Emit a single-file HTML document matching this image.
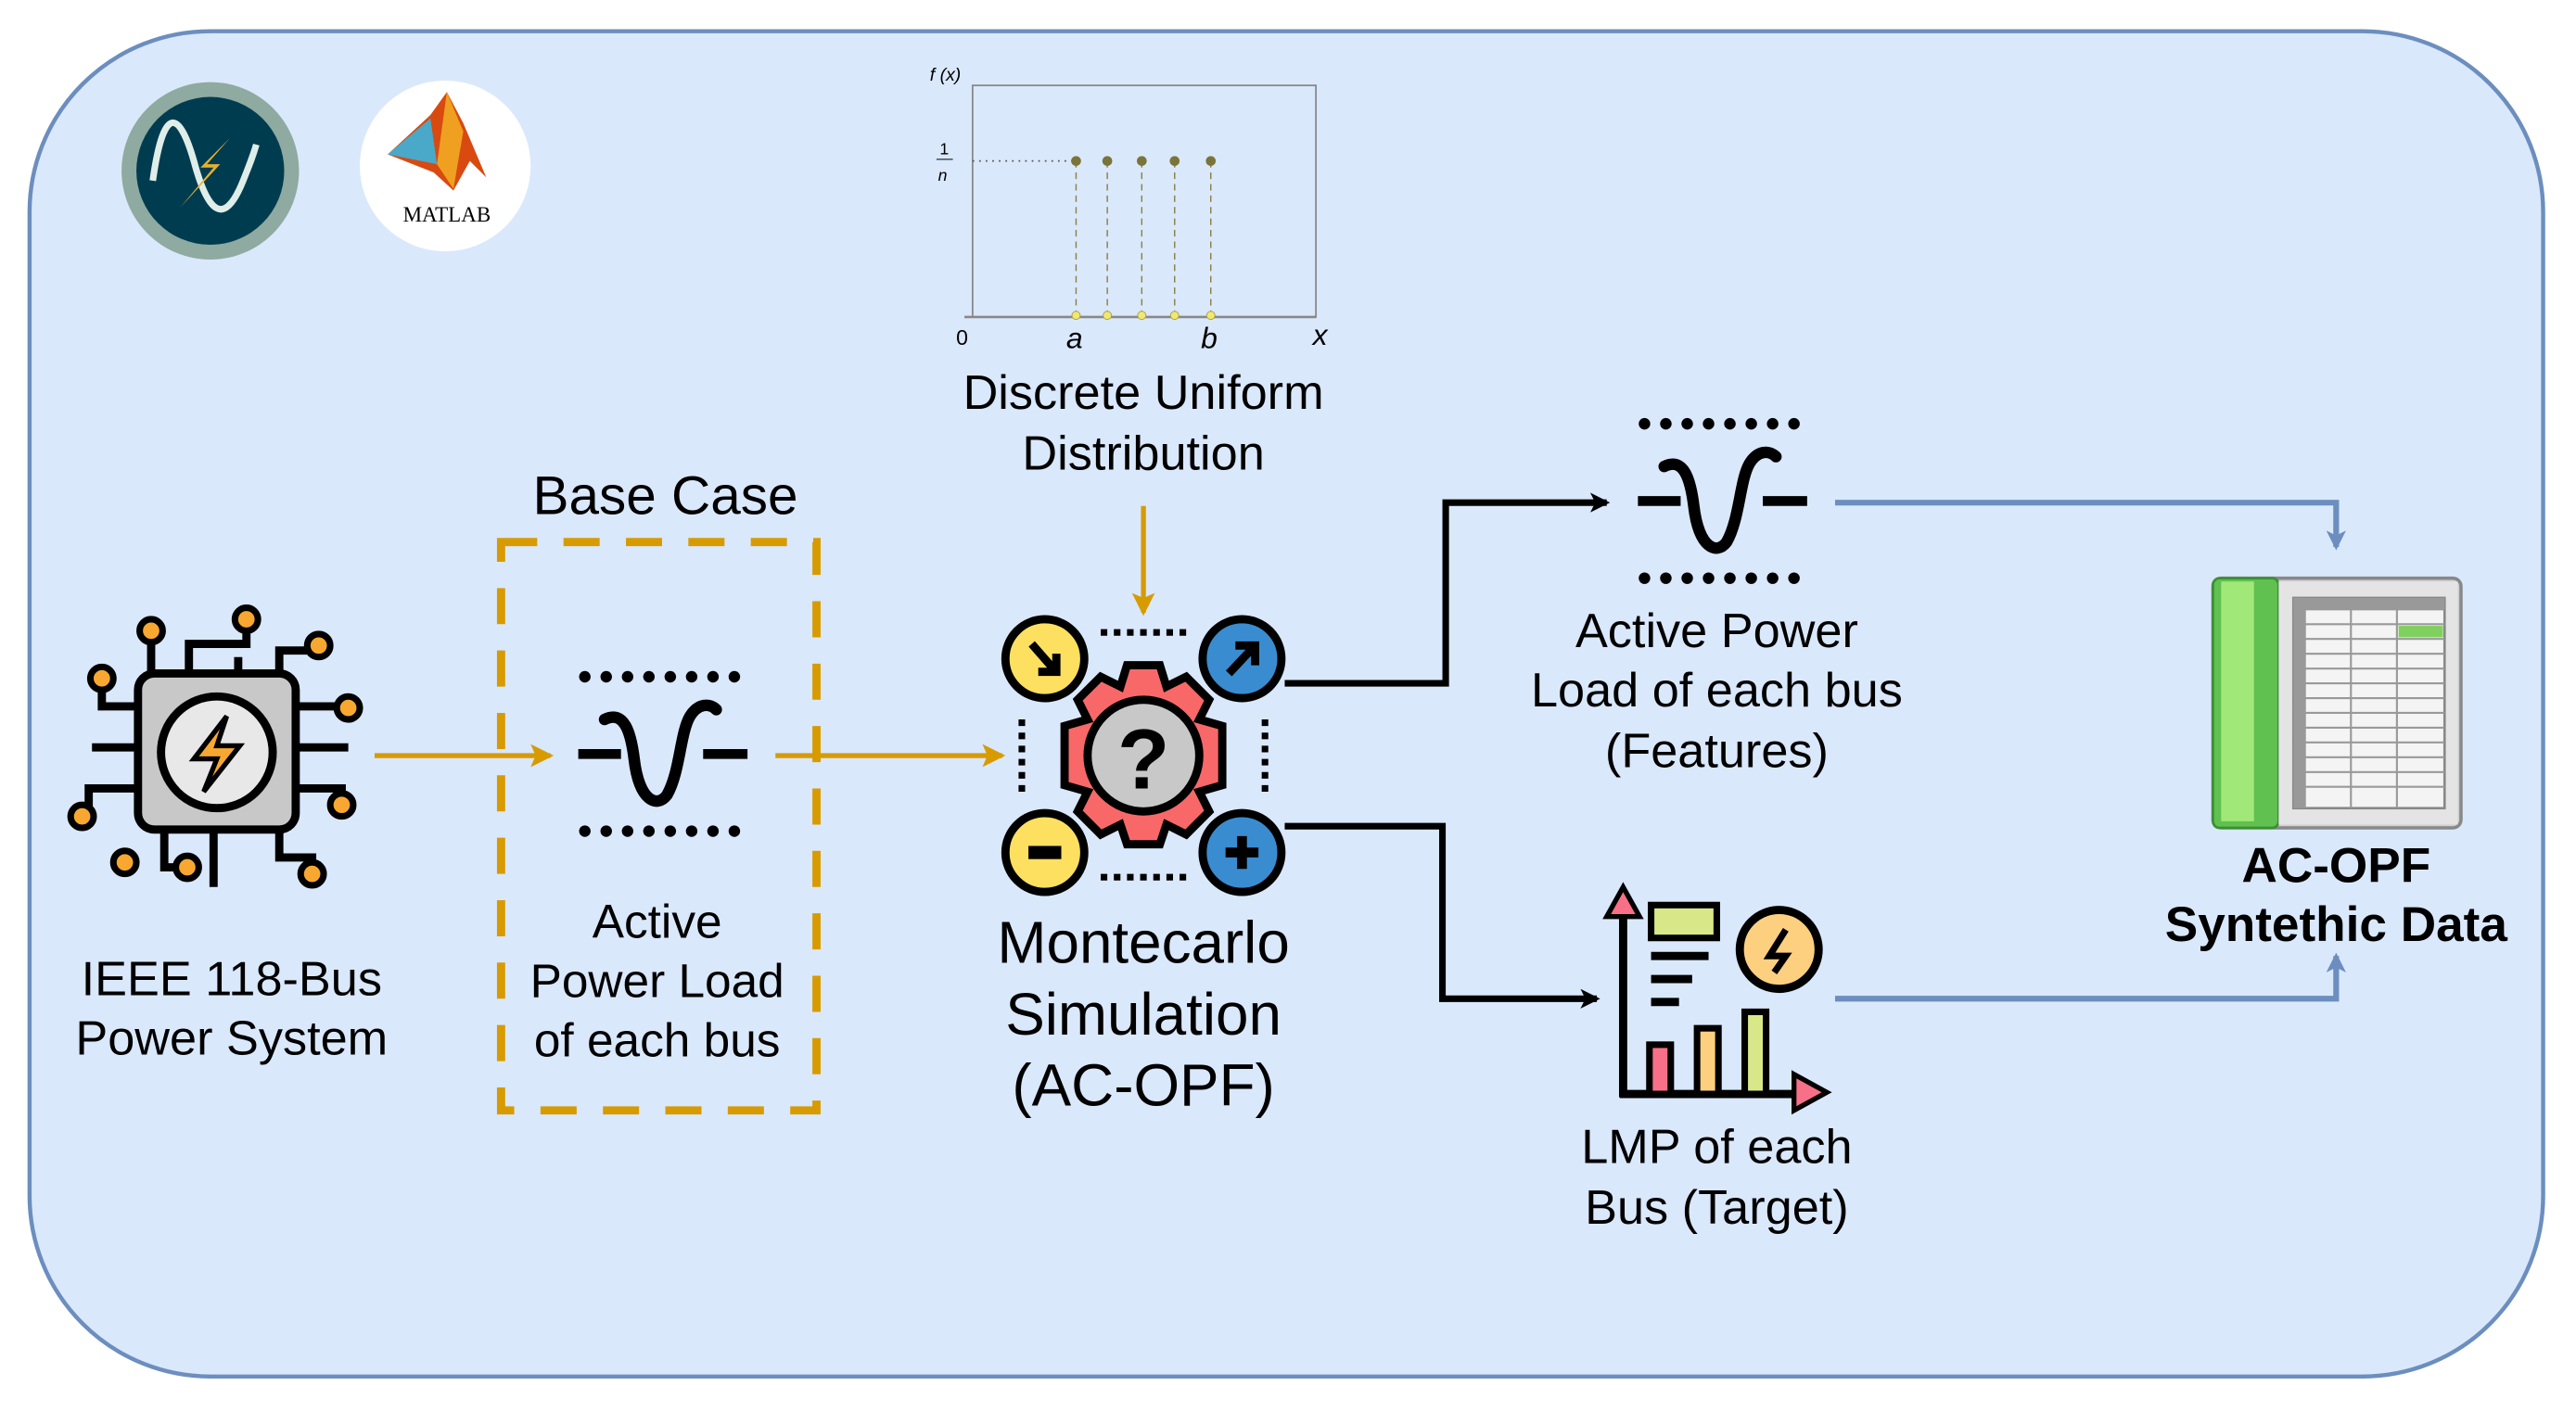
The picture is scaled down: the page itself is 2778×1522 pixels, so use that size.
<!DOCTYPE html>
<html><head><meta charset="utf-8"><style>
html,body{margin:0;padding:0;background:#fff;}
svg{display:block;}
text{font-family:"Liberation Sans",Arial,sans-serif;fill:#000;}
</style></head><body>
<svg width="2778" height="1522" viewBox="0 0 1568 859" preserveAspectRatio="none" xmlns="http://www.w3.org/2000/svg">
<defs>
<marker id="ao" markerWidth="14" markerHeight="14" refX="12" refY="7" orient="auto" markerUnits="userSpaceOnUse"><path d="M0,0 L14,7 L0,14 L3,7z" fill="#d79b00"/></marker>
<marker id="ak" markerWidth="12" markerHeight="12" refX="10" refY="6" orient="auto" markerUnits="userSpaceOnUse"><path d="M0,0 L12,6 L0,12 L3,6z" fill="#000"/></marker>
<marker id="ab" markerWidth="12" markerHeight="12" refX="10" refY="6" orient="auto" markerUnits="userSpaceOnUse"><path d="M0,0 L12,6 L0,12 L3,6z" fill="#6c8ebf"/></marker>
</defs>
<rect x="0" y="0" width="1568" height="859" fill="#fff"/>
<rect x="18" y="19" width="1530" height="819" rx="110" ry="110" fill="#dae8fc" stroke="#6c8ebf" stroke-width="2.5"/>

<!-- logos -->
<circle cx="128" cy="104" r="54" fill="#8faaa0"/>
<circle cx="128" cy="104" r="45" fill="#003c50"/>
<path d="M93,110 C100,60 110,70 118,98 C126,128 136,140 148,110 C152,100 154,95 156,88" fill="none" stroke="#dfeee8" stroke-width="4"/>
<path d="M140,84 L122,102 L130,102 L110,126 L134,100 L126,100z" fill="#e8b030"/>
<circle cx="271" cy="101" r="52" fill="#fff"/>
<path d="M236,94 L262,70 L272,56 L282,75 L296,108 L286,98 L276,116 L264,105z" fill="#d84a10"/>
<path d="M236,94 L262,72 L266,100 z" fill="#4aa8c8"/>
<path d="M266,100 L272,56 L282,80 L276,115z" fill="#f0a020"/>
<text x="272" y="135" font-size="13" text-anchor="middle" style="font-family:'Liberation Serif',serif">MATLAB</text>

<!-- chart -->
<rect x="592" y="52" width="209" height="141" fill="none" stroke="#888" stroke-width="1"/>
<line x1="587" y1="193" x2="801" y2="193" stroke="#888" stroke-width="1.5"/>
<line x1="592" y1="98" x2="654" y2="98" stroke="#555" stroke-width="1" stroke-dasharray="1,3"/>
<g stroke="#8a8040" stroke-width="0.8" stroke-dasharray="4,3">
<line x1="655" y1="98" x2="655" y2="192"/><line x1="674" y1="98" x2="674" y2="192"/><line x1="695" y1="98" x2="695" y2="192"/><line x1="715" y1="98" x2="715" y2="192"/><line x1="737" y1="98" x2="737" y2="192"/></g>
<g fill="#7a7438"><circle cx="655" cy="98" r="3"/><circle cx="674" cy="98" r="3"/><circle cx="695" cy="98" r="3"/><circle cx="715" cy="98" r="3"/><circle cx="737" cy="98" r="3"/></g>
<g fill="#f0e870" stroke="#aaa040" stroke-width="0.5"><circle cx="655" cy="192" r="2.5"/><circle cx="674" cy="192" r="2.5"/><circle cx="695" cy="192" r="2.5"/><circle cx="715" cy="192" r="2.5"/><circle cx="737" cy="192" r="2.5"/></g>
<text x="566" y="49" font-size="11" font-style="italic">f (x)</text>
<text x="572" y="94" font-size="10">1</text><line x1="570" y1="97" x2="580" y2="97" stroke="#000" stroke-width="0.6"/><text x="571" y="110" font-size="10" font-style="italic">n</text>
<text x="582" y="210" font-size="13">0</text>
<text x="649" y="212" font-size="18" font-style="italic">a</text>
<text x="731" y="212" font-size="18" font-style="italic">b</text>
<text x="799" y="210" font-size="18" font-style="italic">x</text>
<text x="696" y="249" font-size="29.5" text-anchor="middle">Discrete Uniform</text>
<text x="696" y="286" font-size="29.5" text-anchor="middle">Distribution</text>

<!-- base case -->
<text x="405" y="313" font-size="33" text-anchor="middle">Base Case</text>
<rect x="305" y="330" width="192" height="346" fill="none" stroke="#d79b00" stroke-width="5" stroke-dasharray="22,16"/>

<!-- power load icons -->
<g id="pl">
<g fill="#000">
<circle cx="356" cy="412" r="3.5"/><circle cx="369" cy="412" r="3.5"/><circle cx="382" cy="412" r="3.5"/><circle cx="395" cy="412" r="3.5"/><circle cx="408" cy="412" r="3.5"/><circle cx="421" cy="412" r="3.5"/><circle cx="434" cy="412" r="3.5"/><circle cx="447" cy="412" r="3.5"/>
<circle cx="356" cy="506" r="3.5"/><circle cx="369" cy="506" r="3.5"/><circle cx="382" cy="506" r="3.5"/><circle cx="395" cy="506" r="3.5"/><circle cx="408" cy="506" r="3.5"/><circle cx="421" cy="506" r="3.5"/><circle cx="434" cy="506" r="3.5"/><circle cx="447" cy="506" r="3.5"/>
</g>
<line x1="352" y1="459" x2="378" y2="459" stroke="#000" stroke-width="6"/>
<line x1="428" y1="459" x2="455" y2="459" stroke="#000" stroke-width="6"/>
<path d="M368,438 C380,432 384,446 386,462 C389,488 400,492 406,484 C414,470 414,446 420,436 C425,428 432,428 436,432" fill="none" stroke="#000" stroke-width="7" stroke-linecap="round"/>
</g>
<use href="#pl" transform="translate(645,-154)"/>
<text x="400" y="571" font-size="29" text-anchor="middle">Active</text>
<text x="400" y="607" font-size="29" text-anchor="middle">Power Load</text>
<text x="400" y="643" font-size="29" text-anchor="middle">of each bus</text>

<!-- chip icon -->
<g stroke="#000" stroke-width="5" fill="none">
<path d="M92,410 V384 M115,410 V392 H150 V377 M145,410 V400 M170,410 V396 H194 V395 M180,430 H212 V431 M180,455 H212 M180,480 H208 V488 M84,430 H62 V413 M84,455 H56 M84,480 H54 V497 M100,505 V528 H114 M130,505 V540 M170,505 V522 H190 V530"/>
</g>
<g fill="#f8a830" stroke="#000" stroke-width="4">
<circle cx="92" cy="384" r="7"/><circle cx="150" cy="377" r="7"/><circle cx="194" cy="393" r="7"/><circle cx="212" cy="431" r="7"/><circle cx="208" cy="490" r="7"/><circle cx="62" cy="413" r="7"/><circle cx="50" cy="497" r="7"/><circle cx="114" cy="528" r="7"/><circle cx="190" cy="532" r="7"/><circle cx="76" cy="525" r="7"/>
</g>
<rect x="84" y="410" width="96" height="95" rx="10" fill="#c8c8c8" stroke="#000" stroke-width="5"/>
<circle cx="132" cy="458" r="34" fill="#e8e8e8" stroke="#000" stroke-width="5"/>
<path d="M138,436 L118,462 L132,462 L124,482 L146,454 L132,454z" fill="#f8a830" stroke="#000" stroke-width="3"/>
<text x="141" y="606" font-size="29.5" text-anchor="middle">IEEE 118-Bus</text>
<text x="141" y="642" font-size="29.5" text-anchor="middle">Power System</text>

<!-- orange arrows -->
<line x1="228" y1="460" x2="335" y2="460" stroke="#d79b00" stroke-width="3" marker-end="url(#ao)"/>
<line x1="472" y1="460" x2="610" y2="460" stroke="#d79b00" stroke-width="3" marker-end="url(#ao)"/>
<line x1="696" y1="308" x2="696" y2="373" stroke="#d79b00" stroke-width="3" marker-end="url(#ao)"/>

<!-- gear icon -->
<g stroke="#000" stroke-width="4" stroke-dasharray="4,4">
<line x1="670" y1="385" x2="722" y2="385"/><line x1="670" y1="534" x2="722" y2="534"/>
<line x1="622" y1="438" x2="622" y2="482"/><line x1="770" y1="438" x2="770" y2="482"/>
</g>
<path d="M686,405 H706 L710,418 L722,412 L736,426 L730,438 L744,442 V478 L730,482 L736,494 L722,508 L710,502 L706,514 H686 L682,502 L670,508 L656,494 L662,482 L648,478 V442 L662,438 L656,426 L670,412 L682,418z" fill="#f86868" stroke="#000" stroke-width="5"/>
<circle cx="696" cy="460" r="34" fill="#c8c8c8" stroke="#000" stroke-width="5"/>
<text x="696" y="480" font-size="52" text-anchor="middle" font-weight="bold">?</text>
<circle cx="636" cy="401" r="24" fill="#fee060" stroke="#000" stroke-width="5"/>
<path d="M628,392 L642,408 M632,409 H643 V398" stroke="#000" stroke-width="5" fill="none"/>
<circle cx="756" cy="401" r="24" fill="#3a8cd0" stroke="#000" stroke-width="5"/>
<path d="M748,410 L763,394 M752,393 H764 V405" stroke="#000" stroke-width="5" fill="none"/>
<circle cx="636" cy="519" r="24" fill="#fee060" stroke="#000" stroke-width="5"/>
<rect x="626" y="515" width="20" height="8" fill="#000"/>
<circle cx="756" cy="519" r="24" fill="#3a8cd0" stroke="#000" stroke-width="5"/>
<path d="M746,519 H766 M756,509 V529" stroke="#000" stroke-width="6"/>
<text x="696" y="586" font-size="36" text-anchor="middle">Montecarlo</text>
<text x="696" y="630" font-size="36" text-anchor="middle">Simulation</text>
<text x="696" y="673" font-size="36" text-anchor="middle">(AC-OPF)</text>

<!-- black connectors -->
<path d="M782,416 H880 V306 H978" fill="none" stroke="#000" stroke-width="4" marker-end="url(#ak)"/>
<path d="M782,503 H878 V608 H972" fill="none" stroke="#000" stroke-width="4" marker-end="url(#ak)"/>

<text x="1045" y="394" font-size="29.5" text-anchor="middle">Active Power</text>
<text x="1045" y="430" font-size="29.5" text-anchor="middle">Load of each bus</text>
<text x="1045" y="467" font-size="29.5" text-anchor="middle">(Features)</text>

<!-- LMP icon -->
<path d="M988,668 V548" stroke="#000" stroke-width="5"/>
<path d="M978,558 L988,540 L998,558z" fill="#f87088" stroke="#000" stroke-width="3"/>
<path d="M986,666 H1100" stroke="#000" stroke-width="5"/>
<path d="M1092,654 L1112,665 L1092,676z" fill="#f87088" stroke="#000" stroke-width="3"/>
<rect x="1004" y="636" width="13" height="30" fill="#f87088" stroke="#000" stroke-width="4"/>
<rect x="1033" y="626" width="13" height="40" fill="#fdd080" stroke="#000" stroke-width="4"/>
<rect x="1062" y="616" width="13" height="50" fill="#d8e888" stroke="#000" stroke-width="4"/>
<rect x="1005" y="551" width="40" height="20" fill="#d8e888" stroke="#000" stroke-width="4"/>
<path d="M1005,582 H1040 M1005,596 H1030 M1005,610 H1022" stroke="#000" stroke-width="5"/>
<circle cx="1083" cy="578" r="24" fill="#fdd080" stroke="#000" stroke-width="5"/>
<path d="M1087,566 L1077,582 H1087 L1080,592" stroke="#000" stroke-width="4" fill="none"/>
<text x="1045" y="708" font-size="29.5" text-anchor="middle">LMP of each</text>
<text x="1045" y="745" font-size="29.5" text-anchor="middle">Bus (Target)</text>

<!-- blue connectors -->
<path d="M1117,306 H1422 V333" fill="none" stroke="#6c8ebf" stroke-width="3.5" marker-end="url(#ab)"/>
<path d="M1117,608 H1422 V582" fill="none" stroke="#6c8ebf" stroke-width="3.5" marker-end="url(#ab)"/>

<!-- spreadsheet -->
<rect x="1347" y="352" width="151" height="152" rx="5" fill="#d0d0d0" stroke="#888" stroke-width="2"/>
<rect x="1347" y="352" width="40" height="152" rx="4" fill="#60c050" stroke="#3a9030" stroke-width="1.5"/>
<rect x="1352" y="354" width="20" height="146" fill="#a0e878"/>
<rect x="1387" y="354" width="109" height="148" fill="#e4e4e4"/>
<rect x="1396" y="364" width="92" height="128" fill="#f4f4f4" stroke="#888" stroke-width="1.5"/>
<g stroke="#999" stroke-width="1.2">
<line x1="1403" y1="364" x2="1403" y2="492"/><line x1="1431" y1="364" x2="1431" y2="492"/><line x1="1459" y1="364" x2="1459" y2="492"/>
<line x1="1396" y1="371" x2="1488" y2="371"/><line x1="1396" y1="380" x2="1488" y2="380"/><line x1="1396" y1="389" x2="1488" y2="389"/><line x1="1396" y1="398" x2="1488" y2="398"/><line x1="1396" y1="407" x2="1488" y2="407"/><line x1="1396" y1="416" x2="1488" y2="416"/><line x1="1396" y1="425" x2="1488" y2="425"/><line x1="1396" y1="434" x2="1488" y2="434"/><line x1="1396" y1="443" x2="1488" y2="443"/><line x1="1396" y1="452" x2="1488" y2="452"/><line x1="1396" y1="461" x2="1488" y2="461"/><line x1="1396" y1="470" x2="1488" y2="470"/><line x1="1396" y1="479" x2="1488" y2="479"/></g>
<rect x="1396" y="364" width="92" height="7" fill="#999"/>
<rect x="1396" y="364" width="7" height="128" fill="#999"/>
<rect x="1460" y="381" width="27" height="7" fill="#80d060"/>
<text x="1422" y="537" font-size="30" font-weight="bold" text-anchor="middle">AC-OPF</text>
<text x="1422" y="573" font-size="30" font-weight="bold" text-anchor="middle">Syntethic Data</text>
</svg>
</body></html>
